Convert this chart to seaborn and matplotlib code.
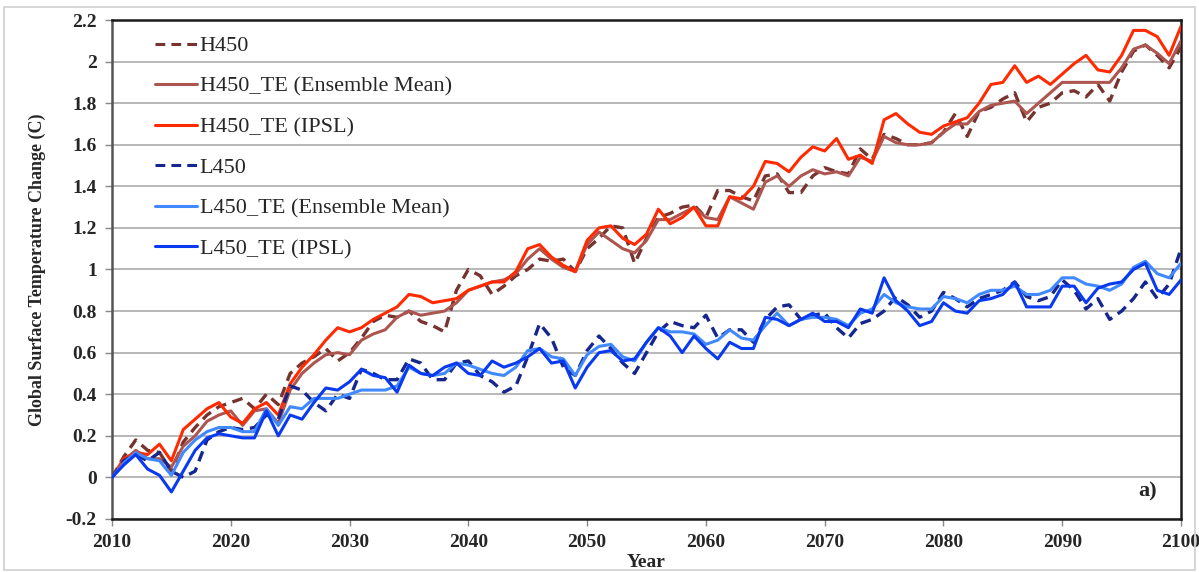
import numpy as np
import pandas as pd
import matplotlib
matplotlib.use("Agg")
import matplotlib.pyplot as plt
import seaborn as sns
from matplotlib.patches import Rectangle

years = list(range(2010, 2101))

h450 = [0.00, 0.10, 0.18, 0.13, 0.12, 0.03, 0.17, 0.24, 0.30, 0.34,
        0.36, 0.38, 0.33, 0.40, 0.35, 0.50, 0.55, 0.58, 0.62, 0.56,
        0.60, 0.67, 0.75, 0.78, 0.77, 0.80, 0.75, 0.73, 0.70, 0.90,
        1.00, 0.97, 0.88, 0.92, 0.97, 1.00, 1.05, 1.04, 1.05, 0.99,
        1.10, 1.15, 1.21, 1.20, 1.03, 1.15, 1.25, 1.27, 1.30, 1.31,
        1.25, 1.38, 1.38, 1.35, 1.33, 1.45, 1.46, 1.37, 1.37, 1.45,
        1.49, 1.47, 1.46, 1.58, 1.53, 1.65, 1.63, 1.60, 1.60, 1.61,
        1.66, 1.75, 1.64, 1.76, 1.78, 1.82, 1.85, 1.71, 1.78, 1.80,
        1.85, 1.86, 1.83, 1.89, 1.81, 1.95, 2.05, 2.08, 2.03, 1.97,
        2.07]

h450_te_mean = [0.00, 0.08, 0.13, 0.09, 0.09, 0.05, 0.15, 0.20, 0.27, 0.30,
                0.32, 0.25, 0.32, 0.33, 0.26, 0.42, 0.50, 0.55, 0.59, 0.60,
                0.59, 0.66, 0.69, 0.71, 0.77, 0.80, 0.78, 0.79, 0.80, 0.84,
                0.90, 0.92, 0.94, 0.95, 0.98, 1.05, 1.10, 1.05, 1.01, 0.99,
                1.12, 1.18, 1.14, 1.10, 1.08, 1.14, 1.24, 1.24, 1.27, 1.30,
                1.25, 1.24, 1.35, 1.32, 1.29, 1.42, 1.45, 1.40, 1.45, 1.48,
                1.46, 1.47, 1.45, 1.54, 1.52, 1.64, 1.61, 1.60, 1.60, 1.61,
                1.66, 1.70, 1.70, 1.76, 1.79, 1.80, 1.81, 1.75, 1.80, 1.85,
                1.90, 1.90, 1.90, 1.90, 1.90, 1.97, 2.06, 2.08, 2.04, 1.99,
                2.10]

h450_te_ipsl = [0.00, 0.09, 0.12, 0.11, 0.16, 0.08, 0.23, 0.28, 0.33, 0.36,
                0.29, 0.26, 0.33, 0.36, 0.30, 0.45, 0.53, 0.59, 0.66, 0.72,
                0.70, 0.72, 0.76, 0.79, 0.82, 0.88, 0.87, 0.84, 0.85, 0.86,
                0.90, 0.92, 0.94, 0.94, 0.99, 1.10, 1.12, 1.06, 1.02, 0.99,
                1.14, 1.20, 1.21, 1.15, 1.12, 1.17, 1.29, 1.22, 1.25, 1.30,
                1.21, 1.21, 1.35, 1.34, 1.40, 1.52, 1.51, 1.47, 1.54, 1.59,
                1.57, 1.63, 1.53, 1.55, 1.51, 1.72, 1.75, 1.70, 1.66, 1.65,
                1.69, 1.71, 1.73, 1.80, 1.89, 1.90, 1.98, 1.90, 1.93, 1.89,
                1.94, 1.99, 2.03, 1.96, 1.95, 2.03, 2.15, 2.15, 2.12, 2.03,
                2.17]

l450 = [0.00, 0.08, 0.11, 0.08, 0.12, 0.03, 0.00, 0.03, 0.18, 0.22,
        0.24, 0.23, 0.24, 0.30, 0.28, 0.44, 0.42, 0.36, 0.32, 0.40,
        0.38, 0.52, 0.50, 0.47, 0.47, 0.57, 0.55, 0.47, 0.47, 0.55,
        0.56, 0.49, 0.46, 0.41, 0.44, 0.58, 0.74, 0.67, 0.53, 0.49,
        0.61, 0.68, 0.62, 0.55, 0.50, 0.60, 0.70, 0.75, 0.73, 0.72,
        0.78, 0.67, 0.71, 0.71, 0.65, 0.76, 0.82, 0.83, 0.76, 0.78,
        0.79, 0.72, 0.67, 0.74, 0.76, 0.80, 0.87, 0.83, 0.77, 0.80,
        0.89, 0.86, 0.82, 0.86, 0.88, 0.90, 0.94, 0.87, 0.85, 0.87,
        0.95, 0.90, 0.81, 0.86, 0.76, 0.80, 0.86, 0.94, 0.86, 0.93,
        1.10]

l450_te_mean = [0.00, 0.07, 0.12, 0.09, 0.08, 0.01, 0.12, 0.18, 0.22, 0.24,
                0.24, 0.22, 0.22, 0.33, 0.25, 0.34, 0.33, 0.38, 0.38, 0.38,
                0.40, 0.42, 0.42, 0.42, 0.44, 0.53, 0.50, 0.49, 0.50, 0.55,
                0.54, 0.52, 0.50, 0.49, 0.53, 0.61, 0.62, 0.58, 0.57, 0.49,
                0.59, 0.63, 0.64, 0.58, 0.56, 0.65, 0.72, 0.70, 0.70, 0.69,
                0.64, 0.66, 0.71, 0.67, 0.66, 0.73, 0.79, 0.73, 0.76, 0.77,
                0.77, 0.76, 0.73, 0.79, 0.81, 0.88, 0.84, 0.82, 0.81, 0.81,
                0.87, 0.86, 0.84, 0.88, 0.90, 0.90, 0.92, 0.88, 0.88, 0.90,
                0.96, 0.96, 0.93, 0.92, 0.90, 0.93, 1.01, 1.04, 0.98, 0.96,
                1.03]

l450_te_ipsl = [0.00, 0.06, 0.11, 0.04, 0.01, -0.07, 0.03, 0.13, 0.19, 0.21,
                0.20, 0.19, 0.19, 0.32, 0.20, 0.30, 0.28, 0.36, 0.43, 0.42,
                0.46, 0.52, 0.49, 0.48, 0.41, 0.54, 0.50, 0.49, 0.53, 0.55,
                0.50, 0.49, 0.56, 0.53, 0.55, 0.58, 0.62, 0.55, 0.56, 0.43,
                0.53, 0.60, 0.61, 0.56, 0.57, 0.65, 0.72, 0.68, 0.60, 0.68,
                0.62, 0.57, 0.65, 0.62, 0.62, 0.77, 0.76, 0.73, 0.76, 0.79,
                0.75, 0.75, 0.72, 0.81, 0.79, 0.96, 0.85, 0.80, 0.73, 0.75,
                0.84, 0.80, 0.79, 0.85, 0.86, 0.88, 0.94, 0.82, 0.82, 0.82,
                0.92, 0.92, 0.84, 0.91, 0.93, 0.94, 1.00, 1.03, 0.90, 0.88,
                0.95]

series_names = ["H450", "H450_TE (Ensemble Mean)", "H450_TE (IPSL)",
                "L450", "L450_TE (Ensemble Mean)", "L450_TE (IPSL)"]
series_values = [h450, h450_te_mean, h450_te_ipsl, l450, l450_te_mean, l450_te_ipsl]
colors = ["#76332f", "#ad5650", "#ff2a00", "#15278f", "#4089ff", "#0a3af0"]
dashed = [True, False, False, True, False, False]

x_ticks = list(range(2010, 2101, 10))
y_ticks = [round(-0.2 + 0.2 * i, 1) for i in range(13)]

sns.set_theme(style="white")
plt.rcParams["font.family"] = ["Liberation Serif", "DejaVu Serif"]

fig = plt.figure(figsize=(11.99, 5.72), dpi=100)
ax = fig.add_axes([0.0934, 0.0927, 0.8916, 0.8723])

for name, vals, col, d in zip(series_names, series_values, colors, dashed):
    df = pd.DataFrame({"Year": years, "value": vals})
    sns.lineplot(data=df, x="Year", y="value", ax=ax, color=col,
                 linewidth=2.4 if d else 2.2,
                 linestyle=(0, (3.2, 2.0)) if d else "-",
                 label=name, zorder=3)

ax.set_xlim(2010, 2100)
ax.set_ylim(-0.2, 2.2)
ax.set_xticks(x_ticks)
ax.set_yticks(y_ticks)
ax.set_xticklabels([str(t) for t in x_ticks], fontsize=14, fontweight="bold")
ax.set_yticklabels([f"{t:g}" for t in y_ticks], fontsize=14, fontweight="bold")
ax.yaxis.grid(True, color="#b8b8b8", linewidth=1.4, zorder=0)
ax.xaxis.grid(False)
ax.set_axisbelow(True)
ax.tick_params(axis="both", which="major", direction="out", length=5,
               width=1, color="#888888", pad=6)
ax.tick_params(axis="x", bottom=True)
ax.tick_params(axis="y", left=True)
for s in ax.spines.values():
    s.set_visible(True)
    s.set_color("#1a1a1a")
    s.set_linewidth(1.8)
ax.spines["left"].set_color("#555555")

ax.set_xlabel("Year", fontsize=14, fontweight="bold", labelpad=2)
ax.set_ylabel("Global Surface Temperature Change (C)", fontsize=13,
              fontweight="bold", labelpad=14)

leg = ax.legend(loc="upper left", frameon=False, fontsize=16,
                handlelength=1.9, handletextpad=0.1, labelspacing=0.9,
                bbox_to_anchor=(0.028, 0.995), borderaxespad=0.2)
for lh in leg.get_lines():
    lh.set_linewidth(2.2)

ax.text(0.977, 0.055, "a)", transform=ax.transAxes, ha="right", va="center",
        fontsize=16, fontweight="bold")

fig.patches.append(Rectangle((0.003, 0.003), 0.994, 0.985, transform=fig.transFigure,
                             fill=False, edgecolor="#d0d0d0", linewidth=1.2))

fig.savefig("out.png", dpi=100)
